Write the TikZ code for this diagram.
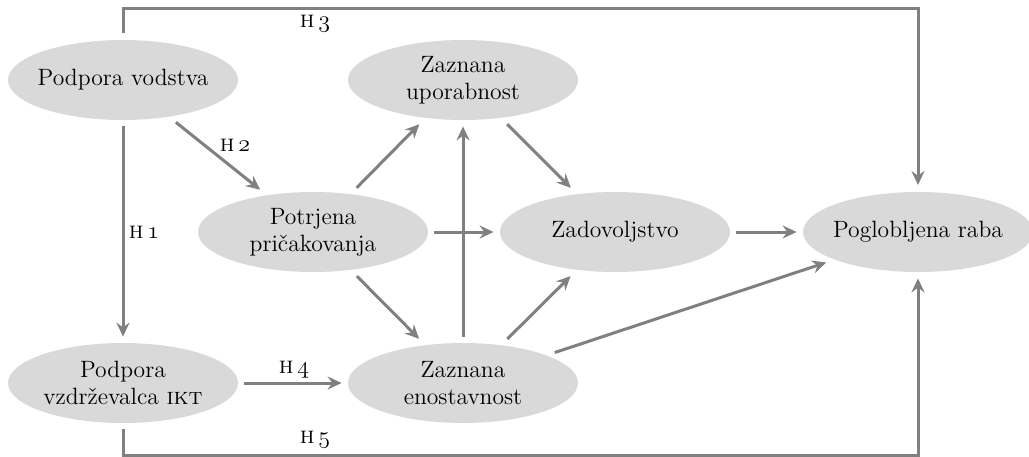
\documentclass[tikz,border=0pt]{standalone}
\usetikzlibrary{arrows.meta,shapes.geometric}
\definecolor{ellfill}{HTML}{D9D9D9}
\definecolor{linegray}{HTML}{808080}
\newcommand{\osfnum}[1]{{\usefont{OML}{cmm}{m}{it}#1}}
\newcommand{\hyp}[1]{\textsc{h}\,\osfnum{#1}}
\begin{document}
\begin{tikzpicture}[x=0.5pt,y=-0.5pt,
  ell/.style={ellipse,fill=ellfill,draw=none,minimum width=115pt,minimum height=40pt,
    inner xsep=-15pt,inner ysep=0pt,outer sep=0pt,align=center,font=\fontsize{11.8}{13.5}\selectfont},
  arr/.style={draw=linegray,line width=1.5pt,-{Stealth[length=7pt,width=6.5pt,inset=2.4pt]}},
  sarr/.style={arr,shorten <=3pt,shorten >=3.2pt},
  darr/.style={arr,shorten <=4.5pt,shorten >=4.5pt},
  lab/.style={font=\fontsize{12}{13}\selectfont,inner sep=0pt}]
\useasboundingbox (0,0) rectangle (1029,456);
\node[ell] (PV) at (123,80) {Podpora vodstva};
\node[ell] (ZU) at (463,80) {Zaznana\\uporabnost};
\node[ell] (PP) at (313,232) {Potrjena\\pričakovanja};
\node[ell] (ZD) at (615,232) {Zadovoljstvo};
\node[ell] (PR) at (918,232) {Poglobljena raba};
\node[ell] (PI) at (123,383) {Podpora\\vzdrževalca \textsc{ikt}};
\node[ell] (ZE) at (463,383) {Zaznana\\enostavnost};
\coordinate (top) at (0,8);
\coordinate (bot) at (0,455);
% frame connectors
\draw[arr,shorten <=3.5pt,shorten >=3.5pt] (PV.north) -- (PV.north |- top) -| (PR.north);
\draw[sarr] (PI.south) -- (PI.south |- bot) -| (PR.south);
% straight connectors
\draw[sarr] (PV) -- (PI);
\draw[sarr] (PI) -- (ZE);
\draw[sarr] (ZE) -- (ZU);
\draw[sarr] (PP) -- (ZD);
\draw[sarr] (ZD) -- (PR);
% diagonal connectors
\draw[darr] (PV) -- (PP);
\draw[darr] (PP) -- (ZU);
\draw[darr] (PP) -- (ZE);
\draw[darr] (ZU) -- (ZD);
\draw[darr] (ZE) -- (ZD);
\draw[darr] (ZE) -- (PR);
% labels
\node[lab] (L1) at (144,232) {\hyp{1}};
\node[lab] (L2) at (235,145) {\hyp{2}};
\node[lab] (L3) at (315,24) {\hyp{3}};
\node[lab] (L4) at (294,370) {\hyp{4}};
\node[lab] (L5) at (315,440) {\hyp{5}};
\end{tikzpicture}
\end{document}
